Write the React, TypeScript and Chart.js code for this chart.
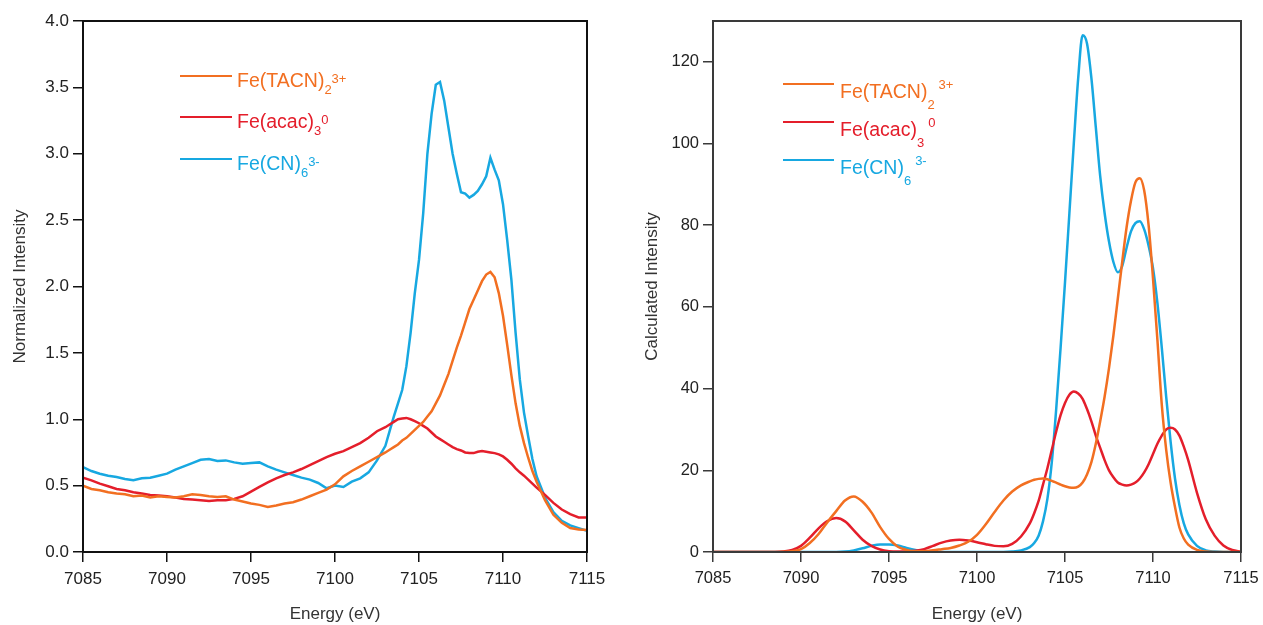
import React, { useEffect, useRef } from "react";
import { Chart, registerables } from "chart.js";

Chart.register(...registerables);

const FONT = "'Liberation Sans', Arial, sans-serif";

// Energy grid (eV)
const energy = [
  7085, 7085.5, 7086, 7086.5, 7087, 7087.5, 7088, 7088.5, 7089, 7089.5,
  7090, 7090.5, 7091, 7091.5, 7092, 7092.5, 7093, 7093.5, 7094, 7094.5,
  7095, 7095.5, 7096, 7096.5, 7097, 7097.5, 7098, 7098.5, 7099, 7099.5,
  7100, 7100.5, 7101, 7101.5, 7102, 7102.5, 7103, 7103.25, 7103.5, 7103.75,
  7104, 7104.25, 7104.5, 7104.75, 7105, 7105.25, 7105.5, 7105.75, 7106, 7106.25,
  7106.5, 7106.75, 7107, 7107.25, 7107.5, 7107.75, 7108, 7108.25, 7108.5, 7108.75,
  7109, 7109.25, 7109.5, 7109.75, 7110, 7110.25, 7110.5, 7110.75, 7111, 7111.25,
  7111.5, 7111.75, 7112, 7112.5, 7113, 7113.5, 7114, 7114.5, 7115,
];

// Left panel: normalized experimental intensity
const expTACN = [
  0.5, 0.475, 0.465, 0.45, 0.44, 0.435, 0.42, 0.425, 0.41, 0.42,
  0.415, 0.41, 0.42, 0.435, 0.43, 0.42, 0.415, 0.42, 0.395, 0.38,
  0.365, 0.355, 0.34, 0.35, 0.365, 0.375, 0.395, 0.42, 0.445, 0.47,
  0.51, 0.57, 0.61, 0.645, 0.68, 0.715, 0.75, 0.77, 0.79, 0.81,
  0.84, 0.86, 0.89, 0.92, 0.95, 0.98, 1.02, 1.06, 1.12, 1.18,
  1.26, 1.34, 1.44, 1.54, 1.63, 1.73, 1.83, 1.9, 1.97, 2.04,
  2.09, 2.11, 2.07, 1.95, 1.78, 1.56, 1.33, 1.12, 0.95, 0.82,
  0.71, 0.61, 0.53, 0.39, 0.28, 0.22, 0.18, 0.17, 0.165,
];
const expAcac = [
  0.56, 0.54, 0.515, 0.495, 0.475, 0.465, 0.45, 0.44, 0.43, 0.425,
  0.42, 0.41, 0.4, 0.395, 0.39, 0.385, 0.39, 0.39, 0.4, 0.42,
  0.455, 0.49, 0.525, 0.555, 0.58, 0.6, 0.625, 0.655, 0.685, 0.715,
  0.74, 0.76, 0.79, 0.82, 0.86, 0.91, 0.94, 0.96, 0.98, 1.0,
  1.005, 1.01, 1.0, 0.985, 0.97, 0.95, 0.93, 0.9, 0.87, 0.85,
  0.83, 0.81, 0.79, 0.775, 0.765, 0.75, 0.745, 0.745, 0.755, 0.76,
  0.755, 0.75, 0.745, 0.735, 0.72, 0.695, 0.665, 0.63, 0.6, 0.575,
  0.545, 0.515, 0.485, 0.43, 0.37, 0.32, 0.285, 0.26, 0.26,
];
const expCN = [
  0.64, 0.61, 0.59, 0.575, 0.565, 0.55, 0.54, 0.555, 0.56, 0.575,
  0.59, 0.62, 0.645, 0.67, 0.695, 0.7, 0.685, 0.69, 0.675, 0.665,
  0.67, 0.675, 0.645, 0.62, 0.6, 0.58, 0.56, 0.545, 0.52, 0.48,
  0.5, 0.49, 0.53, 0.555, 0.6, 0.69, 0.8, 0.91, 1.02, 1.12,
  1.22, 1.4, 1.65, 1.95, 2.2, 2.55, 3.0, 3.3, 3.52, 3.54,
  3.4, 3.2, 3.0, 2.85, 2.71, 2.7, 2.67, 2.69, 2.72, 2.77,
  2.83, 2.97, 2.88, 2.8, 2.62, 2.35, 2.05, 1.65, 1.3, 1.05,
  0.87, 0.7, 0.57, 0.41, 0.3, 0.235, 0.2, 0.18, 0.16,
];

// Right panel: calculated intensity
const calcTACN = [
  0, 0, 0, 0, 0, 0, 0, 0, 0.05, 0.2,
  0.7, 2.2, 4.4, 7.3, 10, 12.6, 13.6, 12.3, 9.7, 6.1,
  3.2, 1.3, 0.5, 0.2, 0.2, 0.4, 0.7, 1.0, 1.6, 2.5,
  4.2, 6.8, 9.8, 12.6, 14.8, 16.3, 17.3, 17.7, 17.9, 18.0,
  17.8, 17.4, 17.0, 16.5, 16.1, 15.8, 15.7, 16.0, 17.0, 19.0,
  22.0, 26.5, 32, 38, 45, 53, 62, 71, 79.5, 86,
  90.5, 91.5, 88.5, 80, 67, 52, 36, 25, 17, 11,
  6, 3.3, 1.8, 0.5, 0.1, 0, 0, 0, 0,
];
const calcAcac = [
  0, 0, 0, 0, 0, 0, 0, 0, 0.1, 0.5,
  1.5, 3.5, 5.8, 7.6, 8.3, 7.5, 5.3, 3.0, 1.5, 0.6,
  0.2, 0.1, 0.1, 0.3, 0.7, 1.5, 2.3, 2.8, 3.0, 2.8,
  2.4, 1.9, 1.5, 1.4, 2.0, 3.8, 7, 9.5, 12.5, 16.5,
  20.5, 25, 29.5, 33.5, 36.5, 38.5, 39.3, 38.8, 37.5, 35,
  32, 28.5, 25.5, 22.5, 20, 18.3, 17, 16.5, 16.3, 16.5,
  17, 18, 19.5, 21.5, 24, 26.5, 28.5, 30, 30.4, 30,
  28.5, 25.8, 22.5, 14.5, 8, 4, 1.6, 0.5, 0.1,
];
const calcCN = [
  0, 0, 0, 0, 0, 0, 0, 0, 0, 0,
  0, 0, 0, 0, 0, 0.1, 0.4, 0.9, 1.5, 1.85,
  1.85, 1.6, 1.0, 0.5, 0.2, 0.05, 0, 0, 0, 0,
  0, 0, 0, 0, 0.1, 0.4, 1.2, 2.2, 4, 7.5,
  13, 22, 35, 50, 66, 83, 100, 116, 126.5, 124.5,
  116, 104, 92, 83, 76, 71, 68.5, 70, 74.5, 78.5,
  80.5, 81, 79, 75, 69.5, 61, 50, 38, 27, 18,
  11.5, 7, 4.3, 1.5, 0.4, 0.1, 0, 0, 0,
];

const xTicks = [7085, 7090, 7095, 7100, 7105, 7110, 7115];
const expYTicks = [0, 0.5, 1, 1.5, 2, 2.5, 3, 3.5, 4];
const calcYTicks = [0, 20, 40, 60, 80, 100, 120];

const legendMain = ["Fe(TACN)", "Fe(acac)", "Fe(CN)"];
const legendSub = ["2", "3", "6"];
const legendSup = ["3+", "0", "3-"];
const seriesColors = ["#F26F21", "#E41E2B", "#17A8E1"];

type LegendCfg = {
  x0: number; x1: number; textX: number; rows: number[];
  baseOff: number; subOff: number; supOff: number; gap: number;
};

function makeLegendPlugin(cfg: LegendCfg) {
  return {
    id: "customLegend",
    afterDraw(chart: any) {
      const ctx = chart.ctx as CanvasRenderingContext2D;
      ctx.save();
      legendMain.forEach((main, i) => {
        const y = cfg.rows[i];
        const color = seriesColors[i];
        ctx.strokeStyle = color;
        ctx.lineWidth = 2;
        ctx.beginPath();
        ctx.moveTo(cfg.x0, y);
        ctx.lineTo(cfg.x1, y);
        ctx.stroke();
        ctx.fillStyle = color;
        ctx.textBaseline = "alphabetic";
        ctx.textAlign = "left";
        ctx.font = `19.5px ${FONT}`;
        const base = y + cfg.baseOff;
        ctx.fillText(main, cfg.textX, base);
        let x = cfg.textX + ctx.measureText(main).width;
        ctx.font = `13px ${FONT}`;
        ctx.fillText(legendSub[i], x, base + cfg.subOff);
        x += ctx.measureText(legendSub[i]).width + cfg.gap;
        ctx.fillText(legendSup[i], x, base + cfg.supOff);
      });
      ctx.restore();
    },
  };
}

function makeFramePlugin(color: string, width: number) {
  return {
    id: "frame",
    afterDatasetsDraw(chart: any) {
      const { left, right, top, bottom } = chart.chartArea;
      const ctx = chart.ctx as CanvasRenderingContext2D;
      ctx.save();
      ctx.strokeStyle = color;
      ctx.lineWidth = width;
      ctx.strokeRect(left, top, right - left, bottom - top);
      ctx.restore();
    },
  };
}

type PanelCfg = {
  width: number;
  series: number[][];
  yMax: number;
  yTicks: number[];
  yFmt: (v: number) => string;
  yTitle: string;
  rightPad: number;
  tickSize: number;
  yTitlePad: number;
  axisColor: string;
  smooth: boolean;
  legend: LegendCfg;
};

function Panel({ cfg }: { cfg: PanelCfg }) {
  const ref = useRef<HTMLCanvasElement | null>(null);
  useEffect(() => {
    if (!ref.current) return;
    const order = [0, 1, 2];
    const datasets = order.map((si) => ({
      label: legendMain[si],
      data: energy.map((x, i) => ({ x, y: cfg.series[si][i] })),
      borderColor: seriesColors[si],
      backgroundColor: seriesColors[si],
      borderWidth: 2.5,
      pointRadius: 0,
      fill: false,
      tension: 0,
      cubicInterpolationMode: cfg.smooth ? ("monotone" as const) : ("default" as const),
    }));
    const chart = new Chart(ref.current, {
      type: "line",
      data: { datasets },
      options: {
        animation: false,
        responsive: false,
        devicePixelRatio: 1,
        layout: { padding: { top: 21, right: cfg.rightPad, left: 0, bottom: 0 } },
        plugins: { legend: { display: false }, tooltip: { enabled: false } },
        scales: {
          x: {
            type: "linear",
            min: 7085,
            max: 7115,
            afterBuildTicks: (s: any) => {
              s.ticks = xTicks.map((v) => ({ value: v }));
            },
            afterFit: (s: any) => {
              s.height = 73;
              s.paddingLeft = 0;
              s.paddingRight = 0;
            },
            grid: {
              drawOnChartArea: false,
              drawTicks: true,
              tickLength: 10,
              color: cfg.axisColor,
              lineWidth: 1.5,
            },
            border: { display: false },
            ticks: {
              font: { family: FONT, size: cfg.tickSize },
              color: "#222",
              padding: 7,
              maxRotation: 0,
              autoSkip: false,
              callback: (v: any) => String(v),
            },
            title: {
              display: true,
              text: "Energy (eV)",
              font: { family: FONT, size: 17 },
              color: "#333",
              padding: { top: 0, bottom: 0 },
            },
          },
          y: {
            type: "linear",
            min: 0,
            max: cfg.yMax,
            afterBuildTicks: (s: any) => {
              s.ticks = cfg.yTicks.map((v) => ({ value: v }));
            },
            afterFit: (s: any) => {
              s.width = 83;
              s.paddingTop = 0;
              s.paddingBottom = 0;
            },
            grid: {
              drawOnChartArea: false,
              drawTicks: true,
              tickLength: 10,
              color: cfg.axisColor,
              lineWidth: 1.5,
            },
            border: { display: false },
            ticks: {
              font: { family: FONT, size: cfg.tickSize },
              color: "#222",
              padding: 4,
              autoSkip: false,
              callback: (v: any) => cfg.yFmt(Number(v)),
            },
            title: {
              display: true,
              text: cfg.yTitle,
              font: { family: FONT, size: 17 },
              color: "#333",
              padding: { top: cfg.yTitlePad, bottom: 0 },
            },
          },
        },
      },
      plugins: [makeFramePlugin(cfg.axisColor, 2), makeLegendPlugin(cfg.legend)],
    } as any);
    return () => chart.destroy();
  }, [cfg]);
  return <canvas ref={ref} width={cfg.width} height={625} style={{ display: "block" }} />;
}

const leftCfg: PanelCfg = {
  width: 630,
  series: [expTACN, expAcac, expCN],
  yMax: 4,
  yTicks: expYTicks,
  yFmt: (v) => v.toFixed(1),
  yTitle: "Normalized Intensity",
  rightPad: 43,
  tickSize: 17,
  yTitlePad: 10.5,
  axisColor: "#111111",
  smooth: false,
  legend: { x0: 180, x1: 232, textX: 237, rows: [76, 117, 159], baseOff: 11, subOff: 6.5, supOff: -4.5, gap: 0 },
};

const rightCfg: PanelCfg = {
  width: 633,
  series: [calcTACN, calcAcac, calcCN],
  yMax: 130,
  yTicks: calcYTicks,
  yFmt: (v) => String(v),
  yTitle: "Calculated Intensity",
  rightPad: 22,
  tickSize: 16.5,
  yTitlePad: 12.5,
  axisColor: "#3a3a3a",
  smooth: true,
  legend: { x0: 153, x1: 204, textX: 210, rows: [84, 122, 160], baseOff: 14, subOff: 10.5, supOff: -9, gap: 4 },
};

export default function App() {
  return (
    <div style={{ position: "absolute", left: 0, top: 0, width: 1263, height: 625, background: "#fff" }}>
      <div style={{ position: "absolute", left: 0, top: 0 }}>
        <Panel cfg={leftCfg} />
      </div>
      <div style={{ position: "absolute", left: 630, top: 0 }}>
        <Panel cfg={rightCfg} />
      </div>
    </div>
  );
}
